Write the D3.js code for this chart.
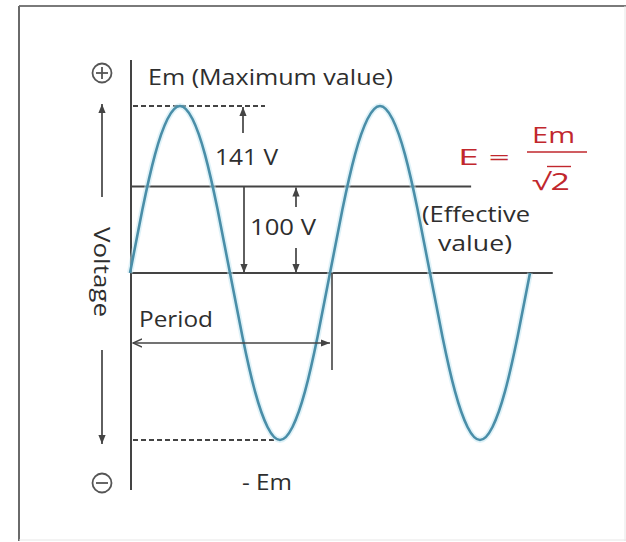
<!DOCTYPE html>
<html>
<head>
<meta charset="utf-8">
<script src="https://cdn.jsdelivr.net/npm/d3@7"></script>
<style>
body{margin:0;background:#fff;}
svg{display:block;font-family:"Open Sans",sans-serif;}
</style>
</head>
<body>
<svg id="chart" width="626" height="542"></svg>
<script>
// wave: phase angle (deg) and voltage (V)
const angles=[0,22.5,45,67.5,90,112.5,135,157.5,180,202.5,225,247.5,270,292.5,315,337.5,
  360,382.5,405,427.5,450,472.5,495,517.5,540,562.5,585,607.5,630,652.5,675,697.5,720];
const voltage=[0,54,100,130,141,130,100,54,0,-54,-100,-130,-141,-130,-100,-54,
  0,54,100,130,141,130,100,54,0,-54,-100,-130,-141,-130,-100,-54,0];

const peakV=141;     // Em
const effDrawn=73;   // the E line is not drawn to scale in the picture
const peakLabel="141 V";
const effLabel="100 V";

const textCol="#2e2e2e", lineCol="#444", waveCol="#4a8ea8", red="#c1272d";

const svg=d3.select('#chart');

const x=d3.scaleLinear().domain([0,720]).range([130,530]);
const y=d3.scaleLinear().domain([-peakV,peakV]).range([440,106]);

// arrow heads
const defs=svg.append('defs');
defs.append('marker').attr('id','head').attr('viewBox','0 0 10 10')
  .attr('refX',10).attr('refY',5).attr('markerWidth',9).attr('markerHeight',9)
  .attr('markerUnits','userSpaceOnUse').attr('orient','auto-start-reverse')
  .append('path').attr('d','M0,1L10,5L0,9z').attr('fill',lineCol);
defs.append('marker').attr('id','open').attr('viewBox','0 0 10 10')
  .attr('refX',1).attr('refY',5).attr('markerWidth',10).attr('markerHeight',10)
  .attr('markerUnits','userSpaceOnUse').attr('orient','auto')
  .append('path').attr('d','M10,1L1,5L10,9').attr('fill','none')
  .attr('stroke',lineCol).attr('stroke-width',1.4);

// frame
svg.append('line').attr('x1',19).attr('y1',6).attr('x2',626).attr('y2',6).attr('stroke','#7a7a7a').attr('stroke-width',2);
svg.append('line').attr('x1',19).attr('y1',6).attr('x2',19).attr('y2',541).attr('stroke','#6a6a6a').attr('stroke-width',2);
svg.append('line').attr('x1',19).attr('y1',540).attr('x2',626).attr('y2',540).attr('stroke','#e6e6e6').attr('stroke-width',1);
svg.append('line').attr('x1',625).attr('y1',6).attr('x2',625).attr('y2',541).attr('stroke','#e6e6e6').attr('stroke-width',1);

function hline(v,x1,x2,dash){
  svg.append('line').attr('x1',x1).attr('x2',x2).attr('y1',y(v)).attr('y2',y(v))
    .attr('stroke',lineCol).attr('stroke-width',2).attr('stroke-dasharray',dash||null);
}

// reference lines
hline(0,131,x(761));
hline(effDrawn,131,x(614));
hline(peakV,133,x(243),'5,3');
hline(-peakV,133,x(265),'5,3');

// vertical axis
svg.append('line').attr('x1',131).attr('x2',131).attr('y1',60).attr('y2',490)
  .attr('stroke',lineCol).attr('stroke-width',2);

// the wave
const line=d3.line().x((d,i)=>x(angles[i])).y(d=>y(d)).curve(d3.curveNatural);
svg.append('path').datum(voltage).attr('d',line).attr('fill','none')
  .attr('stroke','#bfe6f2').attr('stroke-width',6).attr('opacity',0.5);
svg.append('path').datum(voltage).attr('d',line).attr('fill','none')
  .attr('stroke',waveCol).attr('stroke-width',2.6);

function arrow(x1,y1,x2,y2,start,end){
  svg.append('line').attr('x1',x1).attr('y1',y1).attr('x2',x2).attr('y2',y2)
    .attr('stroke',lineCol).attr('stroke-width',1.7)
    .attr('marker-start',start?'url(#'+start+')':null)
    .attr('marker-end',end?'url(#'+end+')':null);
}

// 141 V
arrow(243,133,243,y(peakV)+1,null,'head');
// 100 V
arrow(244,y(effDrawn),244,y(0),null,'head');
arrow(296,207,296,y(effDrawn)+1,null,'head');
arrow(296,248,296,y(0),null,'head');
// period
arrow(x(0)+3,343,x(360),343,'open','head');
svg.append('line').attr('x1',x(360)+2).attr('x2',x(360)+2).attr('y1',y(0)).attr('y2',370)
  .attr('stroke',lineCol).attr('stroke-width',1.6);

// voltage direction arrows
arrow(102,197,102,104,null,'head');
arrow(102,350,102,444,null,'head');

// + and - signs
function sign(cy,plus){
  const g=svg.append('g').attr('stroke','#555').attr('stroke-width',1.8).attr('fill','none');
  g.append('circle').attr('cx',102).attr('cy',cy).attr('r',9.5);
  g.append('line').attr('x1',96).attr('x2',108).attr('y1',cy).attr('y2',cy);
  if(plus) g.append('line').attr('x1',102).attr('x2',102).attr('y1',cy-6).attr('y2',cy+6);
}
sign(73,true);
sign(483,false);

// the picture's lettering is wider than the font, so stretch each label to its width
function label(t,tx,ty,w,size,col,anchor){
  return svg.append('text').attr('x',tx).attr('y',ty).attr('font-size',size||21)
    .attr('fill',col||textCol).attr('text-anchor',anchor||'start')
    .attr('textLength',w).attr('lengthAdjust','spacingAndGlyphs').text(t);
}

label('Em (Maximum value)',148,85,245);
label(peakLabel,215,165,63);
label(effLabel,250,235,66);
label('Period',139,327,74);
label('- Em',242,490,50);
label('(Effective',422,222,108);
label('value)',438,251,74);

svg.append('text').attr('transform','translate(94,272) rotate(90)')
  .attr('text-anchor','middle').attr('font-size',22).attr('fill',textCol)
  .attr('textLength',90).attr('lengthAdjust','spacingAndGlyphs').text('Voltage');

// formula
label('E =',458,165,52,22,red);
label('Em',532,143,43,22,red);
svg.append('line').attr('x1',527).attr('x2',587).attr('y1',152).attr('y2',152)
  .attr('stroke',red).attr('stroke-width',1.6);
label('√2',532,190,38,23,red);
svg.append('line').attr('x1',547).attr('x2',571).attr('y1',166.5).attr('y2',166.5)
  .attr('stroke',red).attr('stroke-width',1.4);
</script>
</body>
</html>
